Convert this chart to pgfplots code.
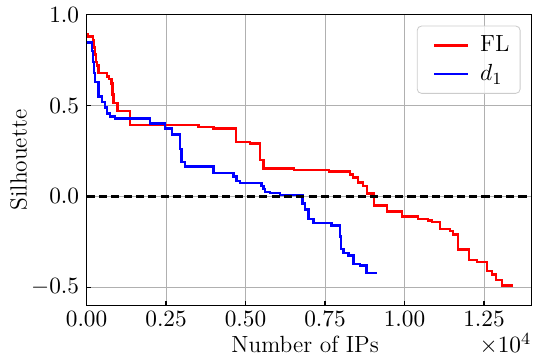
\documentclass[border=0pt]{standalone}
\usepackage{pgfplots}
\pgfplotsset{compat=1.18}
\pgfplotsset{straightlegend/.style={legend image code/.code={\path[draw=none,fill=none] (0pt,0pt) -- (5pt,0pt); \draw[##1,sharp plot] (5pt,0pt) -- (21pt,0pt);}}}
\begin{document}
\begin{tikzpicture}[font=\fontsize{11}{13.2}\selectfont]
\begin{axis}[
  scale only axis, width=209.2pt, height=136.8pt,
  font=\fontsize{11}{13.2}\selectfont,
  xmin=0, xmax=14000, ymin=-0.6, ymax=1.0,
  xtick={0,2500,5000,7500,10000,12500},
  xticklabels={$0.00$,$0.25$,$0.50$,$0.75$,$1.00$,$1.25$},
  ytick={-0.5,0,0.5,1.0},
  yticklabels={$-0.5$,$0.0$,$0.5$,$1.0$},
  xticklabel style={yshift=0.8pt},
  scaled x ticks=false,
  grid=major,
  major grid style={color=black!31, line width=0.45pt},
  tick align=inside, tick pos=left,
  major tick length=2.2pt,
  axis line style={line width=0.7pt},
  every tick/.style={black, line width=0.6pt},
  legend cell align=left,
  legend style={at={(axis description cs:0.975,0.962)}, anchor=north east,
    draw=black!20, rounded corners=2pt, fill=white, fill opacity=0.8, text opacity=1,
    inner xsep=3pt, inner ysep=2.5pt, row sep=0.5pt, column sep=3pt,
    nodes={inner sep=2pt},
    font=\fontsize{11}{13.2}\selectfont},
]
\coordinate (O) at (rel axis cs:0,0);
\addplot[red, line width=1.2pt, const plot, straightlegend] coordinates {
(0,0.89) (50,0.88) (200,0.86) (230,0.82) (260,0.78) (290,0.74) (330,0.72) (370,0.68)
(640,0.66) (700,0.645) (790,0.62) (810,0.56) (840,0.515) (970,0.47) (1370,0.394)
(3520,0.383) (3990,0.375) (4700,0.30) (5140,0.29) (5460,0.20) (5560,0.155)
(6530,0.146) (7630,0.137) (8290,0.120) (8380,0.104) (8540,0.077) (8700,0.058)
(8820,0.016) (9040,-0.051) (9450,-0.084) (9920,-0.11) (10430,-0.124) (10740,-0.133)
(10870,-0.14) (11120,-0.179) (11430,-0.19) (11530,-0.21) (11680,-0.29) (12030,-0.35)
(12280,-0.36) (12600,-0.41) (12750,-0.43) (12880,-0.46) (13070,-0.49) (13410,-0.49)
};
\addlegendentry{FL}
\addplot[blue, line width=1.2pt, const plot, straightlegend] coordinates {
(0,0.848) (164,0.80) (200,0.74) (235,0.68) (267,0.63) (371,0.55) (478,0.52)
(582,0.49) (635,0.455) (739,0.44) (896,0.43) (1997,0.40) (2469,0.375) (2680,0.34)
(2940,0.26) (2994,0.19) (3098,0.165) (3988,0.128) (4617,0.11) (4724,0.086)
(4828,0.075) (5510,0.058) (5560,0.04) (5614,0.024) (5771,0.018) (6085,0.009)
(6800,-0.04) (6872,-0.073) (6976,-0.123) (7133,-0.145) (7712,-0.16) (7972,-0.22)
(8000,-0.288) (8076,-0.31) (8234,-0.325) (8391,-0.37) (8601,-0.38) (8812,-0.42)
(9127,-0.42)
};
\addlegendentry{$d_1$}
\addplot[black, line width=1.2pt, dash pattern=on 3.8pt off 2pt, forget plot] coordinates {(0,0) (14000,0)};
\end{axis}
\path (O) ++(-40.7pt,-24.6pt) rectangle ++(251pt,167.9pt);
\node[anchor=base, inner sep=0pt] at ([shift={(102.7pt,-22pt)}]O) {Number of IPs};
\node[rotate=90, anchor=base, inner sep=0pt] at ([shift={(-28.2pt,68.4pt)}]O) {Silhouette};
\node[anchor=base east, inner sep=0pt] at ([shift={(209.2pt,-22.2pt)}]O) {$\times 10^{4}$};
\end{tikzpicture}
\end{document}
